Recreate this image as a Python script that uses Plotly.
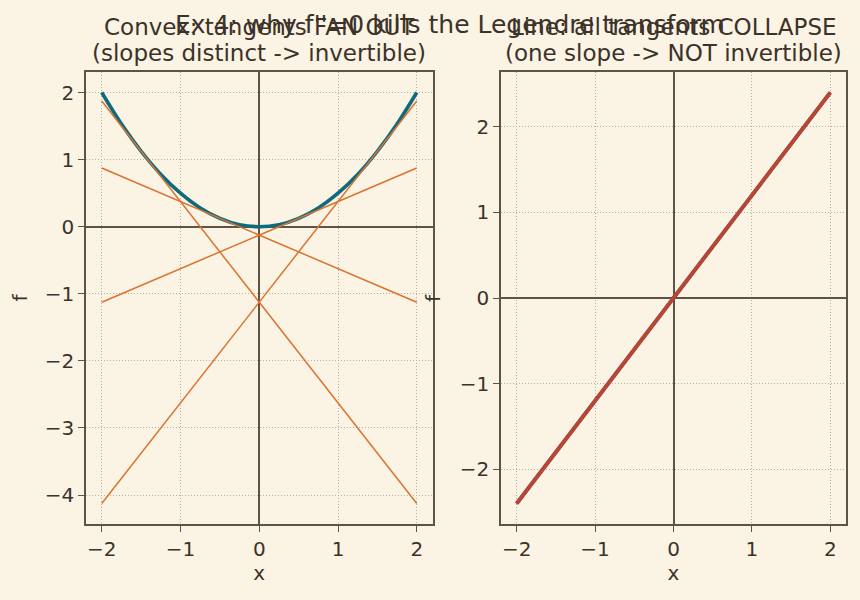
import plotly.graph_objects as go

# ---- data ----
curve_x = [-2.0, -1.75, -1.5, -1.25, -1.0, -0.75, -0.5, -0.25, 0.0,
           0.25, 0.5, 0.75, 1.0, 1.25, 1.5, 1.75, 2.0]
curve_y = [2.0, 1.53, 1.125, 0.78, 0.5, 0.28, 0.125, 0.03, 0.0,
           0.03, 0.125, 0.28, 0.5, 0.78, 1.125, 1.53, 2.0]
tan_x = [-2.0, 2.0]
tan_left_end = [1.875, 0.875, -1.125, -4.125]   # f at x=-2
tan_right_end = [-4.125, -1.125, 0.875, 1.875]  # f at x=2

lin_x = [-2.0, 2.0]
lin_y = [-2.4, 2.4]
lin_tan_y = [[-2.4, 2.4], [-2.4, 2.4], [-2.4, 2.4], [-2.4, 2.4]]

title = "Ex 4: why f''=0 kills the Legendre transform"
sub_left = ["Convex: tangents FAN OUT", "(slopes distinct -> invertible)"]
sub_right = ["Line: all tangents COLLAPSE", "(one slope -> NOT invertible)"]
ticks_x = [-2, -1, 0, 1, 2]

# ---- style ----
BG = "#FBF3E4"
FRAME = "#5E5345"
TEXT = "#3B3229"
GRID = "#B9B0A2"
TEAL = "#0F6A7E"
ORANGE = "#DA732E"
RED = "#B9472F"
PURPLE = "#8E3B57"
FONT = "DejaVu Sans"
TICK = 20
SUB = 23

fig = go.Figure()

fig.add_trace(go.Scatter(x=curve_x, y=curve_y, mode="lines", line=dict(color=TEAL, width=3.6, shape="spline"),
                         xaxis="x", yaxis="y", showlegend=False))
for a, b in zip(tan_left_end, tan_right_end):
    fig.add_trace(go.Scatter(x=tan_x, y=[a, b], mode="lines", line=dict(color=ORANGE, width=1.5),
                             xaxis="x", yaxis="y", showlegend=False))

fig.add_trace(go.Scatter(x=lin_x, y=lin_y, mode="lines", line=dict(color=PURPLE, width=4),
                         xaxis="x2", yaxis="y2", showlegend=False))
for ys in lin_tan_y:
    fig.add_trace(go.Scatter(x=lin_x, y=ys, mode="lines", line=dict(color=RED, width=2.6),
                             xaxis="x2", yaxis="y2", showlegend=False))

ax_common = dict(showline=True, mirror=True, linecolor=FRAME, linewidth=1.6,
                 ticks="outside", ticklen=6, tickwidth=1.3, tickcolor=FRAME,
                 showgrid=True, gridcolor=GRID, gridwidth=0.9, griddash="1px,2px",
                 zeroline=True, zerolinecolor=FRAME, zerolinewidth=1.5,
                 tickfont=dict(size=TICK, color=TEXT, family=FONT),
                 title_font=dict(size=TICK, color=TEXT, family=FONT))

minus_ticks = lambda vals: ["\u2212" + str(-v) if v < 0 else str(v) for v in vals]

L_DOM = [86/860, 432.5/860]
R_DOM = [501/860, 846/860]

annots = []
for lines, dom in ((sub_left, L_DOM), (sub_right, R_DOM)):
    for txt, ypx in zip(lines, (27, 53)):
        annots.append(dict(text=txt, x=(dom[0]+dom[1])/2, y=1-ypx/600, xref="paper", yref="paper",
                           xanchor="center", yanchor="middle", showarrow=False,
                           font=dict(size=SUB, color=TEXT, family=FONT)))
annots.append(dict(text=title, x=450/860, y=1-25/600, xref="paper", yref="paper",
                   xanchor="center", yanchor="middle", showarrow=False,
                   font=dict(size=25, color=TEXT, family=FONT)))
annots.append(dict(text="f", x=433/860, y=1-298/600, xref="paper", yref="paper",
                   xanchor="center", yanchor="middle", showarrow=False, textangle=-90,
                   font=dict(size=TICK, color=TEXT, family=FONT)))

fig.update_layout(
    width=860, height=600,
    margin=dict(l=0, r=0, t=0, b=0),
    paper_bgcolor=BG, plot_bgcolor=BG,
    font=dict(family=FONT, color=TEXT),
    xaxis=dict(domain=L_DOM, range=[-2.2, 2.2], tickvals=ticks_x,
               ticktext=minus_ticks(ticks_x), anchor="y",
               title=dict(text="x", standoff=6), **ax_common),
    yaxis=dict(domain=[1-524/600, 1-72/600], range=[-4.43125, 2.30625],
               anchor="x", tickvals=[-4, -3, -2, -1, 0, 1, 2],
               ticktext=minus_ticks([-4, -3, -2, -1, 0, 1, 2]),
               title=dict(text="f", standoff=12), **ax_common),
    xaxis2=dict(domain=R_DOM, range=[-2.2, 2.2], tickvals=ticks_x,
                ticktext=minus_ticks(ticks_x), anchor="y2",
                title=dict(text="x", standoff=6), **ax_common),
    yaxis2=dict(domain=[1-524/600, 1-72/600], range=[-2.64, 2.64], anchor="x2",
                tickvals=[-2, -1, 0, 1, 2],
                ticktext=minus_ticks([-2, -1, 0, 1, 2]), **ax_common),
    annotations=annots,
)

fig.write_html("out.html")
